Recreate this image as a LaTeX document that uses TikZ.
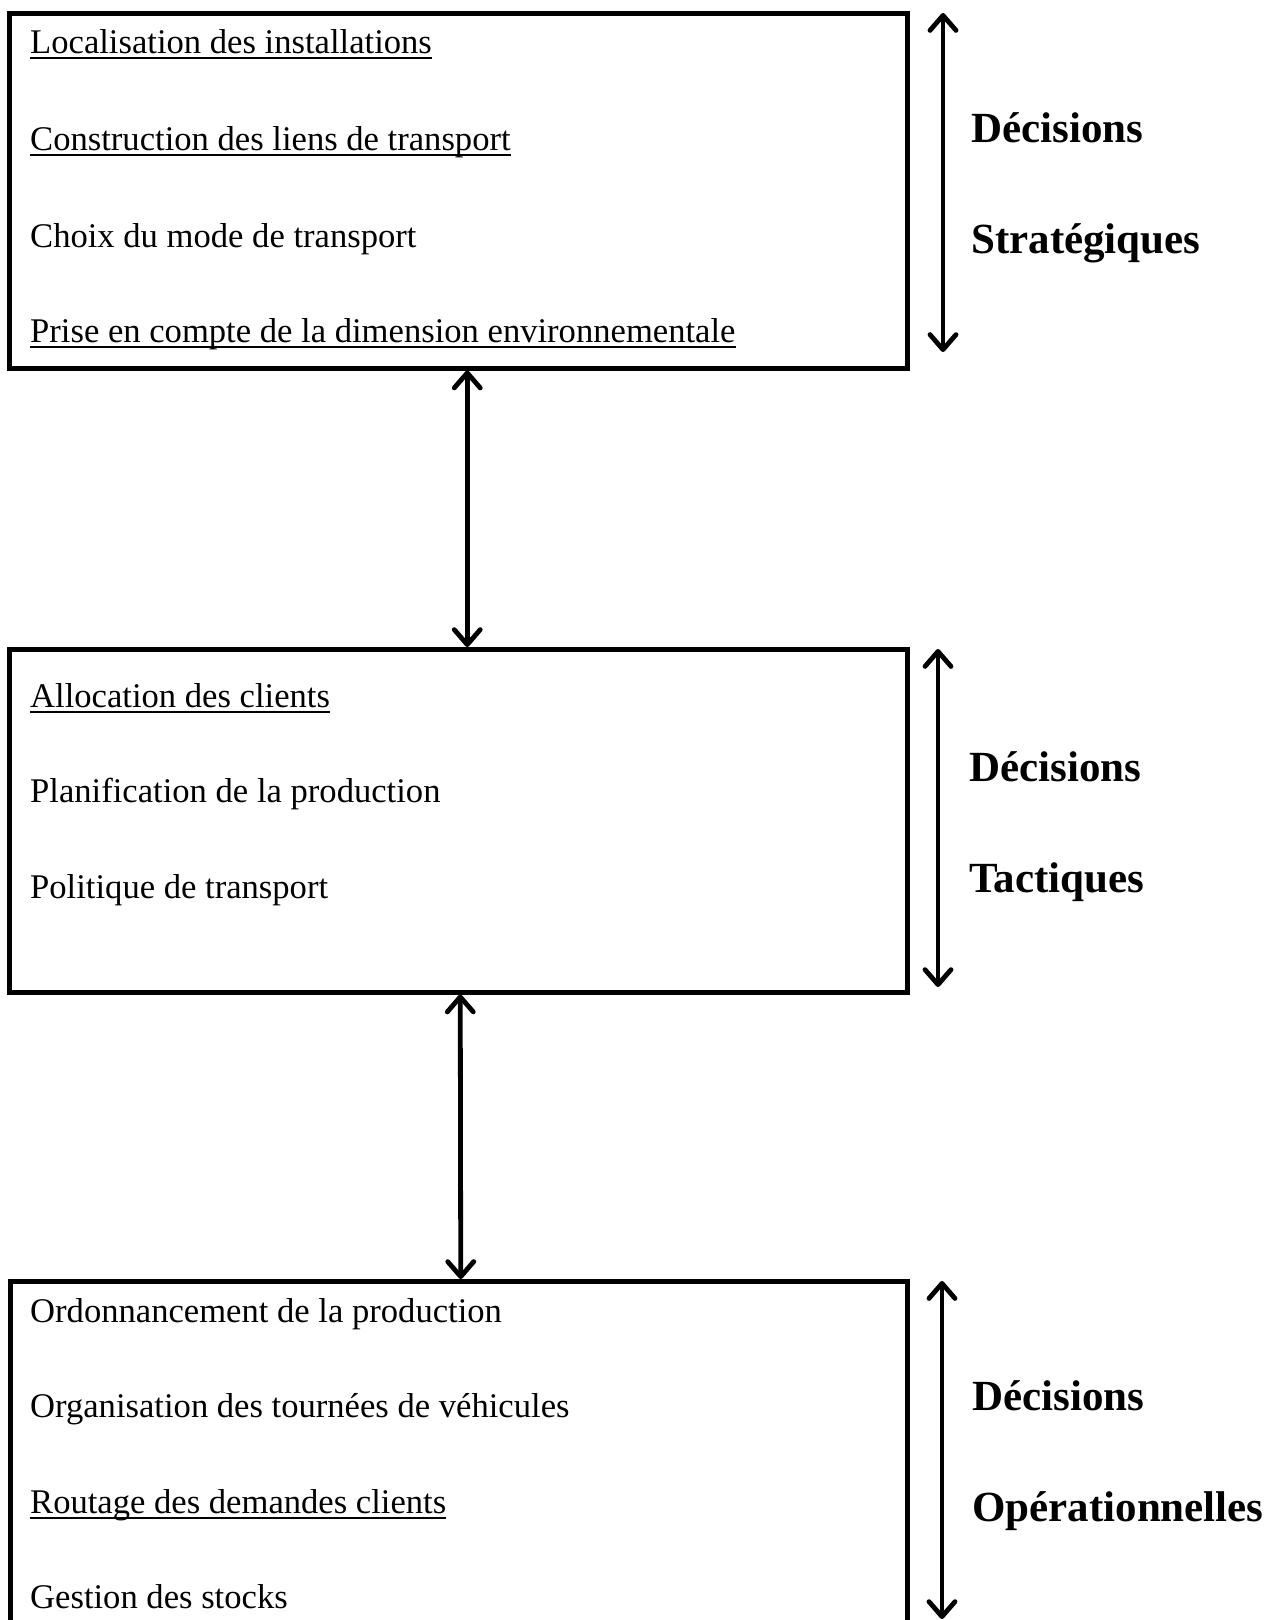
\documentclass[tikz,border=0pt]{standalone}
\usepackage{fontspec}
\setmainfont{Liberation Serif}
\usetikzlibrary{arrows.meta}

\tikzset{
  levelbox/.style={draw, line width=4.5pt, rectangle, inner sep=0pt, anchor=north west},
  item/.style={anchor=base west, inner sep=0pt, font=\fontsize{34.6}{41}\selectfont},
  tag/.style={anchor=base west, inner sep=0pt, font=\fontsize{43}{50}\selectfont\bfseries},
  uline/.style={line width=2pt},
  twoway/.style={line width=4.8pt, {Straight Barb[length=15pt,width=26pt,line cap=round,line join=round]}-{Straight Barb[length=15pt,width=26pt,line cap=round,line join=round]}}
}

\begin{document}
\begin{tikzpicture}[x=1pt, y=-1pt]
  \useasboundingbox (0,0) rectangle (1274,1620);
  \clip (0,0) rectangle (1274,1620);
  \fill[white] (0,0) rectangle (1274,1620);

  % the three decision levels
  \node[levelbox, minimum width=898pt, minimum height=355pt] (strat) at (7,11) {};
  \node[levelbox, minimum width=898pt, minimum height=343pt] (tact) at (7,647) {};
  \node[levelbox, minimum width=897pt, minimum height=380pt] (oper) at (8,1279) {};

  % strategic decisions
  \node[item] (s1) at (30,53)  {Localisation des installations};
  \node[item] (s2) at (30,150) {Construction des liens de transport};
  \node[item] (s3) at (30,247) {Choix du mode de transport};
  \node[item] (s4) at (30,342) {Prise en compte de la dimension environnementale};
  \draw[uline] ([yshift=-5pt]s1.base west) -- ([yshift=-5pt]s1.base east);
  \draw[uline] ([yshift=-5pt]s2.base west) -- ([yshift=-5pt]s2.base east);
  \draw[uline] ([yshift=-5pt]s4.base west) -- ([yshift=-5pt]s4.base east);

  % tactical decisions
  \node[item] (t1) at (30,707) {Allocation des clients};
  \node[item] (t2) at (30,802) {Planification de la production};
  \node[item] (t3) at (30,898) {Politique de transport};
  \draw[uline] ([yshift=-5pt]t1.base west) -- ([yshift=-5pt]t1.base east);

  % operational decisions
  \node[item] (o1) at (30,1322) {Ordonnancement de la production};
  \node[item] (o2) at (30,1417) {Organisation des tournées de véhicules};
  \node[item] (o3) at (30,1513) {Routage des demandes clients};
  \node[item] (o4) at (30,1608) {Gestion des stocks};
  \draw[uline] ([yshift=-5pt]o3.base west) -- ([yshift=-5pt]o3.base east);

  % level labels
  \node[tag] (ls1) at (971,142)  {Décisions};
  \node[tag] (ls2) at (971,253)  {Stratégiques};
  \node[tag] (lt1) at (969,781)  {Décisions};
  \node[tag] (lt2) at (969,892)  {Tactiques};
  \node[tag] (lo1) at (972,1410) {Décisions};
  \node[tag] (lo2) at (972,1521) {Opérationnelles};

  % links between levels
  \draw[twoway] ([xshift=9pt]strat.south) -- ([xshift=9pt]tact.north);
  \draw[twoway] ([xshift=2pt]tact.south) -- ([xshift=2pt]oper.north);

  % horizon span arrows
  \coordinate (sa) at (943,13);
  \coordinate (sb) at (943,352);
  \coordinate (ta) at (938,649);
  \coordinate (tb) at (938,987);
  \coordinate (oa) at (942,1281);
  \coordinate (ob) at (942,1619);
  \draw[twoway] (sa) -- (sb);
  \draw[twoway] (ta) -- (tb);
  \draw[twoway] (oa) -- (ob);
\end{tikzpicture}
\end{document}
